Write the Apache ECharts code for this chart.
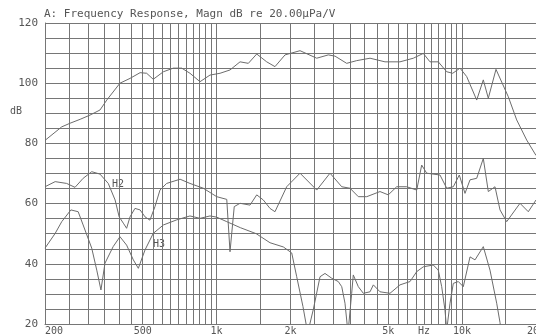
<!DOCTYPE html>
<html>
<head>
<meta charset="utf-8">
<script src="https://cdn.jsdelivr.net/npm/echarts@6/dist/echarts.min.js"></script>
<style>
  html, body { margin: 0; padding: 0; background: #fff; }
  #chart { width: 536px; height: 336px; }
</style>
</head>
<body>
<div id="chart"></div>
<script>
// frequency (Hz) / level (dB)
const mainFreq = [200, 234, 253, 278, 305, 335, 357, 404, 444, 488, 519, 552, 607, 666, 721, 779, 856, 940, 1033, 1134, 1246, 1347, 1457, 1600, 1729, 1900, 2187, 2558, 2851, 3036, 3388, 3721, 4217, 4852, 5585, 6329, 6950, 7400, 7998, 8657, 9158, 9806, 10441, 11468, 12200, 12786, 13742, 15424, 16688, 18330, 20000];
const mainDb   = [81, 85.5, 86.7, 88, 89.4, 91.1, 94.4, 100, 101.6, 103.5, 103.3, 101.3, 103.8, 105, 105, 103.3, 100.5, 102.7, 103.3, 104.4, 107.1, 106.6, 109.7, 107.1, 105.5, 109.4, 110.8, 108.3, 109.4, 109, 106.6, 107.5, 108.3, 107.1, 107.1, 108.3, 109.9, 107.1, 107.1, 103.8, 103.3, 105, 102.2, 94.4, 101.1, 95, 104.6, 95.5, 87.8, 81.1, 76];

const h2Freq = [200, 220, 245, 265, 286, 310, 335, 362, 386, 401, 417, 430, 444, 465, 488, 511, 535, 561, 588, 626, 710, 779, 883, 1001, 1100, 1134, 1180, 1246, 1368, 1457, 1550, 1650, 1729, 1930, 2187, 2558, 2897, 3234, 3495, 3778, 4089, 4630, 5004, 5416, 5948, 6534, 6846, 7174, 8128, 8657, 9209, 9742, 10276, 10771, 11468, 12200, 12786, 13616, 14270, 15194, 17213, 18606, 20000];
const h2Db   = [65.6, 67.3, 66.7, 65.4, 68.4, 70.6, 69.8, 66.7, 61.2, 55.6, 53.5, 51.8, 55.6, 58.4, 57.9, 55.6, 54.5, 59, 64.5, 66.7, 68.1, 66.7, 65.1, 62.3, 61.4, 44, 59, 60.1, 59.5, 62.9, 61.2, 58.4, 57.3, 65.6, 70.1, 64.5, 70.1, 65.6, 65.1, 62.3, 62.3, 64, 62.9, 65.6, 65.6, 64.5, 72.8, 70.1, 69.5, 65.1, 65.6, 69.5, 63.4, 67.9, 68.4, 75, 64, 65.6, 57.9, 54, 60.1, 57.3, 61.2];

const h3Freq = [200, 220, 234, 255, 273, 286, 310, 325, 338, 351, 379, 404, 430, 458, 480, 511, 552, 607, 688, 779, 856, 940, 1001, 1100, 1250, 1450, 1650, 1870, 2023, 2120, 2248, 2350, 2480, 2638, 2764, 2944, 3131, 3234, 3334, 3430, 3550, 3604, 3778, 3960, 4217, 4350, 4630, 5086, 5585, 6136, 6534, 6950, 7633, 7998, 8258, 8518, 8657, 8928, 9209, 9652, 10114, 10771, 11288, 12200, 12990, 13834, 14270, 14800, 20000];
const h3Db   = [45.2, 50.1, 54, 57.9, 57.3, 52.9, 45.2, 37.9, 31.3, 40.2, 45.7, 49, 46.2, 41.3, 38.5, 44.6, 50.1, 52.9, 54.6, 55.9, 55.1, 55.9, 55.5, 54, 52, 50, 47, 45.6, 43.6, 35.7, 25.8, 17, 25, 35.7, 36.8, 35.2, 34.1, 32.4, 26.9, 17, 30.2, 36.3, 32.4, 30.2, 30.7, 33, 30.7, 30.2, 33, 34.1, 37.4, 39, 39.6, 37.9, 32.4, 24.6, 18, 26.9, 33.5, 34.1, 32.4, 42.3, 41.3, 45.7, 37.9, 26.9, 20.5, 10, 10];

// vertical grid lines and frequency labels
const gridFreqs = [200, 250, 300, 350, 400, 450, 500, 550, 600, 650, 700, 750, 800, 850, 900, 950, 1000,
  1500, 2000, 2500, 3000, 3500, 4000, 4500, 5000, 5500, 6000, 6500, 7000, 7500, 8000, 8500, 9000, 9500, 10000,
  15000, 20000];
const labelFreqs = [200, 500, 1000, 2000, 5000, 7000, 10000, 20000];
const labelTexts = ['200', '500', '1k', '2k', '5k', 'Hz', '10k', '20k'];

const lg = Math.log10;
const pts = (fs, ds) => fs.map((f, i) => [lg(f), ds[i]]);

const chart = echarts.init(document.getElementById('chart'));
const gridColor = '#767676';
const lineColor = '#6c6c6c';
const font = 'DejaVu Sans Mono';

chart.setOption({
  animation: false,
  grid: { left: 45, right: 0, top: 23, bottom: 12, outerBoundsMode: 'none', containLabel: false },
  xAxis: {
    type: 'value',
    min: lg(200),
    max: lg(20000),
    axisLine: { show: true, lineStyle: { color: gridColor, width: 1 } },
    axisTick: { show: false, customValues: gridFreqs.map(lg) },
    splitLine: { show: true, lineStyle: { color: gridColor, width: 1 } },
    axisLabel: {
      customValues: labelFreqs.map(lg),
      margin: 2,
      fontSize: 10,
      fontFamily: font,
      color: '#555',
      alignMinLabel: 'left',
      formatter: (v) => {
        const i = labelFreqs.findIndex(f => Math.abs(lg(f) - v) < 1e-6);
        return i >= 0 ? labelTexts[i] : '';
      }
    }
  },
  yAxis: {
    type: 'value',
    min: 20,
    max: 120,
    interval: 5,
    axisLine: { show: true, lineStyle: { color: gridColor, width: 1 } },
    axisTick: { show: false },
    splitLine: { show: true, lineStyle: { color: gridColor, width: 1 } },
    axisLabel: {
      margin: 7,
      fontSize: 11,
      fontFamily: font,
      color: '#555',
      formatter: (v) => (v % 20 === 0 ? String(v) : '')
    }
  },
  graphic: [
    { type: 'text', left: 44, top: 9, style: { text: 'A: Frequency Response, Magn dB re 20.00\u03bcPa/V', font: '11px "DejaVu Sans Mono"', fill: '#555' } },
    { type: 'text', left: 10, top: 106, style: { text: 'dB', font: '10px "DejaVu Sans Mono"', fill: '#555' } },
    { type: 'text', left: 112, top: 179, style: { text: 'H2', font: '10px "DejaVu Sans Mono"', fill: '#555' } },
    { type: 'text', left: 153, top: 239, style: { text: 'H3', font: '10px "DejaVu Sans Mono"', fill: '#555' } }
  ],
  series: [
    { name: 'Response', type: 'line', data: pts(mainFreq, mainDb), showSymbol: false, clip: true, lineStyle: { color: lineColor, width: 1 } },
    { name: 'H2', type: 'line', data: pts(h2Freq, h2Db), showSymbol: false, clip: true, lineStyle: { color: lineColor, width: 1 } },
    { name: 'H3', type: 'line', data: pts(h3Freq, h3Db), showSymbol: false, clip: true, lineStyle: { color: lineColor, width: 1 } }
  ]
});
</script>
</body>
</html>
